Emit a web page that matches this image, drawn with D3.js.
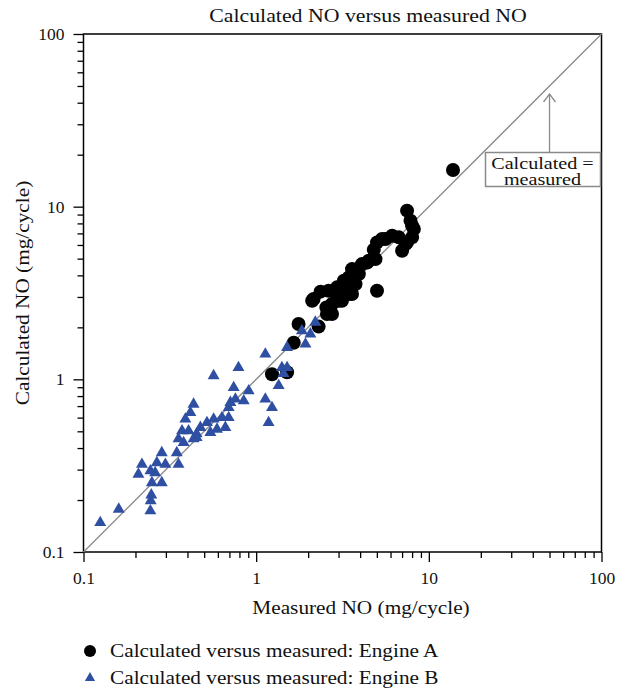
<!DOCTYPE html>
<html>
<head>
  <meta charset="utf-8">
  <script src="https://d3js.org/d3.v7.min.js"></script>
  <title>Calculated NO versus measured NO</title>
  <style>
    body { margin: 0; background: #fff; }
    text { font-family: "Liberation Serif", "DejaVu Serif", serif; fill: #111; }
    .frame { fill: none; stroke: #000; stroke-width: 1.5px; }
    .axis path { display: none; }
    .axis line { stroke: #000; stroke-width: 1.3px; }
    .axis text { font-size: 17.5px; font-family: "Liberation Serif", serif; fill: #111; }
  </style>
</head>
<body>
<div id="chart"></div>
<script>
// measured NO (x) and calculated NO (y), mg/cycle
var engineA_measured = [13.8, 1.235, 1.51, 1.65, 1.76, 2.30, 2.11, 2.36, 2.63, 2.57, 2.75, 2.63, 2.55,
  2.94, 3.22, 3.44, 3.59, 3.93, 3.76, 3.44, 3.14, 4.10, 4.49, 4.91, 5.01, 4.80, 5.01, 5.61, 6.13,
  6.70, 7.00, 7.33, 8.00, 8.19, 7.83, 7.48, 7.48, 5.36, 4.39, 3.36, 2.88, 2.15, 2.75, 3.59, 3.14,
  8.00, 3.00];
var engineA_calculated = [16.3, 1.07, 1.10, 1.63, 2.09, 2.02, 2.85, 3.22, 3.26, 2.39, 2.39, 2.61, 2.61,
  3.41, 3.72, 3.89, 4.35, 4.07, 3.56, 3.12, 2.85, 4.65, 4.86, 4.97, 3.26, 5.63, 6.21, 6.50, 6.79,
  6.64, 5.56, 6.08, 6.64, 7.43, 8.30, 9.48, 6.21, 6.50, 4.75, 3.64, 3.19, 2.92, 2.73, 3.12, 3.33,
  7.76, 2.85];

var engineB_measured = [0.125, 0.160, 0.244, 0.245, 0.247, 0.218, 0.208, 0.244, 0.249, 0.284, 0.266,
  0.284, 0.298, 0.260, 0.355, 0.347, 0.380, 0.355, 0.434, 0.452, 1.13, 0.79, 0.567, 0.741, 0.905,
  0.847, 1.13, 1.235, 1.18, 0.434, 0.416, 0.389, 0.372, 0.406, 0.475, 0.519, 0.567, 0.593, 0.543,
  0.663, 0.693, 0.709, 0.634, 0.693, 0.452, 0.758, 1.51, 1.84, 2.06, 1.93, 2.20, 1.41, 1.51, 1.35,
  1.44];
var engineB_calculated = [0.148, 0.177, 0.173, 0.198, 0.214, 0.322, 0.282, 0.295, 0.252, 0.252, 0.329,
  0.376, 0.322, 0.288, 0.322, 0.376, 0.430, 0.452, 0.452, 0.483, 1.40, 1.17, 1.05, 0.896, 0.858,
  0.751, 0.768, 0.686, 0.562, 0.718, 0.642, 0.588, 0.503, 0.503, 0.526, 0.562, 0.588, 0.514, 0.492,
  0.526, 0.686, 0.734, 0.600, 0.600, 0.460, 0.768, 1.53, 1.91, 1.83, 1.60, 2.14, 1.17, 1.17, 0.92,
  1.08];

var majorTicks = [0.1, 1, 10, 100];
var tickLabels = ["0.1", "1", "10", "100"];
var legendLabels = ["Calculated versus measured: Engine A", "Calculated versus measured: Engine B"];

var margin = {top: 34, right: 23.5, bottom: 138, left: 83.5},
    width = 625 - margin.left - margin.right,
    height = 690 - margin.top - margin.bottom;

var blue = "#2f4fa3";
var fs = "18.5px";

// the original face is wider than Liberation Serif, so widen glyphs a bit
function widen(sel, k) {
  sel.each(function() {
    var w = this.getComputedTextLength();
    d3.select(this).attr("textLength", w * k).attr("lengthAdjust", "spacingAndGlyphs");
  });
}

var svg = d3.select("#chart").append("svg")
    .attr("width", 625)
    .attr("height", 690);

var g = svg.append("g")
    .attr("transform", "translate(" + margin.left + "," + margin.top + ")");

var x = d3.scaleLog().domain([0.1, 100]).range([0, width]);
var y = d3.scaleLog().domain([0.1, 100]).range([height, 0]);

// minor ticks 2..9 of each decade
var minor = [];
majorTicks.slice(0, 3).forEach(function(d) {
  for (var k = 2; k <= 9; k++) minor.push(d * k);
});

g.append("g")
    .attr("class", "axis")
    .attr("transform", "translate(0," + height + ")")
    .call(d3.axisBottom(x).tickValues(minor).tickSize(6).tickFormat(""));
g.append("g")
    .attr("class", "axis")
    .attr("transform", "translate(0," + height + ")")
    .call(d3.axisBottom(x).tickValues(majorTicks).tickSize(10).tickPadding(10)
      .tickFormat(function(d, i) { return tickLabels[i]; }));

g.append("g")
    .attr("class", "axis")
    .call(d3.axisLeft(y).tickValues(minor).tickSize(6).tickFormat(""));
g.append("g")
    .attr("class", "axis")
    .call(d3.axisLeft(y).tickValues(majorTicks).tickSize(10).tickPadding(9)
      .tickFormat(function(d, i) { return tickLabels[i]; }));

g.append("rect")
    .attr("class", "frame")
    .attr("width", width)
    .attr("height", height);

// calculated = measured line
g.append("line")
    .attr("x1", x(0.1)).attr("y1", y(0.1))
    .attr("x2", x(100)).attr("y2", y(100))
    .attr("stroke", "#8a8a8a")
    .attr("stroke-width", 1.3);

// annotation box and arrow
var ax = x(50);
g.append("line")
    .attr("x1", ax).attr("y1", 118.5)
    .attr("x2", ax).attr("y2", 60)
    .attr("stroke", "#8a8a8a").attr("stroke-width", 1.3);
g.append("path")
    .attr("d", "M" + (ax - 6) + ",68 L" + ax + ",60 L" + (ax + 6) + ",68")
    .attr("fill", "none").attr("stroke", "#8a8a8a").attr("stroke-width", 1.3);
g.append("rect")
    .attr("x", 402).attr("y", 118.5)
    .attr("width", 115).attr("height", 34)
    .attr("fill", "#fff").attr("stroke", "#8a8a8a").attr("stroke-width", 1.5);
var note = g.append("text")
    .attr("text-anchor", "middle")
    .style("font-size", "17.5px");
note.append("tspan").attr("x", 459).attr("y", 135).text("Calculated =");
note.append("tspan").attr("x", 459).attr("y", 151).text("measured");
widen(note.selectAll("tspan"), 1.15);

// engine A
g.selectAll(".ptA")
    .data(engineA_measured)
  .enter().append("circle")
    .attr("class", "ptA")
    .attr("cx", function(d) { return x(d); })
    .attr("cy", function(d, i) { return y(engineA_calculated[i]); })
    .attr("r", 7)
    .attr("fill", "#000");

// engine B
var tri = d3.symbol().type(d3.symbolTriangle).size(62);
g.selectAll(".ptB")
    .data(engineB_measured)
  .enter().append("path")
    .attr("class", "ptB")
    .attr("d", tri)
    .attr("transform", function(d, i) {
      return "translate(" + x(d) + "," + y(engineB_calculated[i]) + ")";
    })
    .attr("fill", blue);

// titles
var title = svg.append("text")
    .attr("x", 368).attr("y", 22)
    .attr("text-anchor", "middle")
    .style("font-size", fs)
    .text("Calculated NO versus measured NO");
widen(title, 1.18);

var xTitle = svg.append("text")
    .attr("x", 361).attr("y", 614)
    .attr("text-anchor", "middle")
    .style("font-size", fs)
    .text("Measured NO (mg/cycle)");
widen(xTitle, 1.15);

var yTitle = svg.append("text")
    .attr("transform", "translate(29," + (margin.top + height / 2) + ") rotate(-90)")
    .attr("text-anchor", "middle")
    .style("font-size", fs)
    .text("Calculated NO (mg/cycle)");
widen(yTitle, 1.15);

// legend
var legend = svg.append("g");
legend.append("circle")
    .attr("cx", 90).attr("cy", 651).attr("r", 6)
    .attr("fill", "#000");
legend.append("path")
    .attr("d", d3.symbol().type(d3.symbolTriangle).size(45))
    .attr("transform", "translate(90,678)")
    .attr("fill", blue);
var lg = legend.selectAll(".lg")
    .data(legendLabels)
  .enter().append("text")
    .attr("x", 110)
    .attr("y", function(d, i) { return 657 + i * 27; })
    .style("font-size", fs)
    .text(function(d) { return d; });
widen(lg, 1.15);
</script>
</body>
</html>
